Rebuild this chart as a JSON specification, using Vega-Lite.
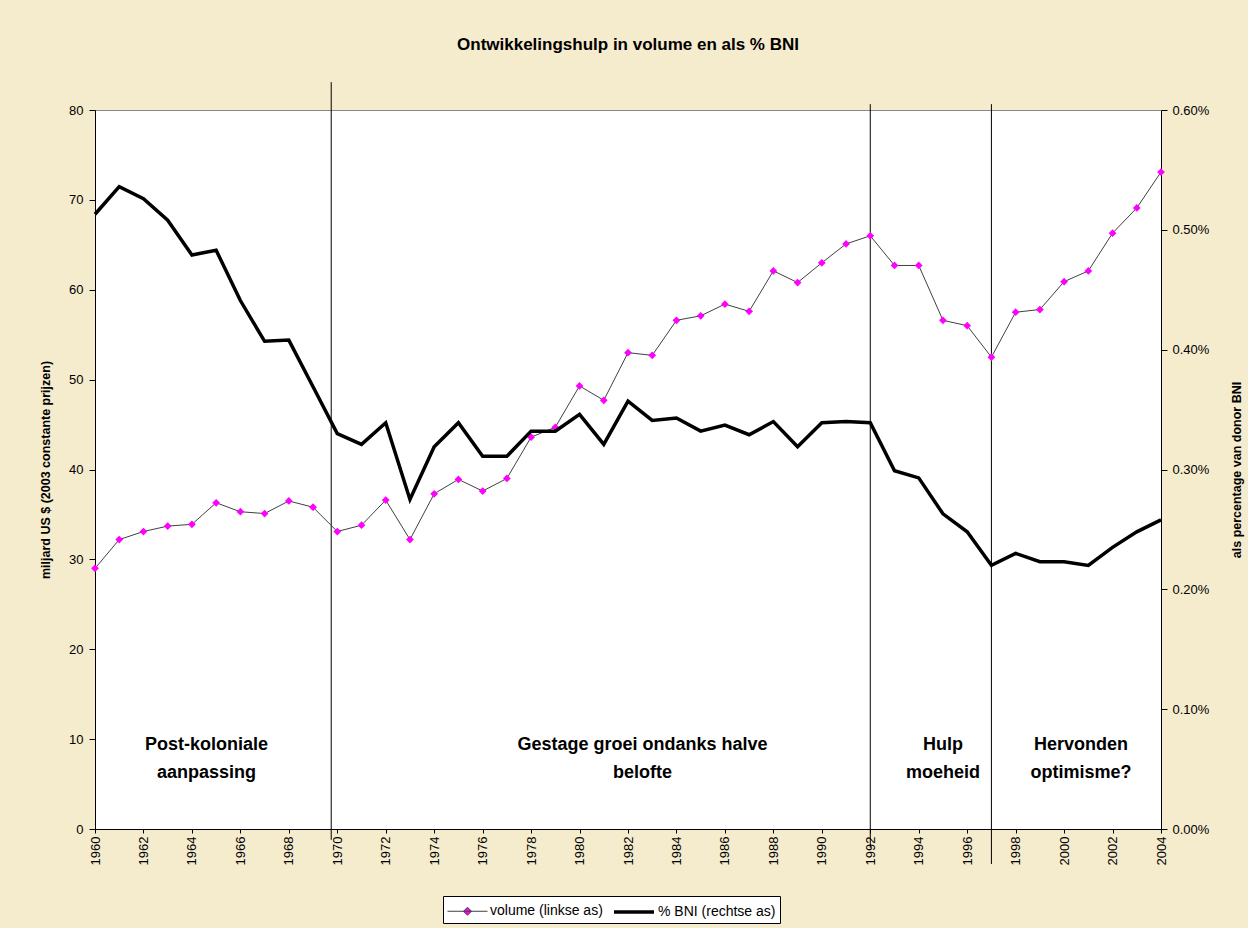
{
  "$schema": "https://vega.github.io/schema/vega-lite/v6.json",
  "autosize": "none",
  "width": 1066,
  "height": 719,
  "padding": {"left": 95, "top": 110, "right": 87, "bottom": 99},
  "background": "#F5EBCD",
  "title": {"text": "Ontwikkelingshulp in volume en als % BNI", "font": "Liberation Sans", "fontSize": 17, "fontWeight": "bold", "anchor": "middle", "offset": 28, "color": "black"},
  "config": {
    "view": {"fill": "white", "stroke": "#888888"},
    "axis": {"domainColor": "black", "tickColor": "black", "labelFont": "Liberation Sans", "labelFontSize": 13, "labelColor": "black", "titleFont": "Liberation Sans", "titleFontSize": 12.5, "titleFontWeight": "bold", "titleColor": "black", "grid": false, "tickSize": 6}
  },
  "datasets": {
    "series": [
      {"year":1960,"series":"volume (linkse as)","value":29.0},{"year":1961,"series":"volume (linkse as)","value":32.2},{"year":1962,"series":"volume (linkse as)","value":33.1},{"year":1963,"series":"volume (linkse as)","value":33.7},{"year":1964,"series":"volume (linkse as)","value":33.9},{"year":1965,"series":"volume (linkse as)","value":36.3},{"year":1966,"series":"volume (linkse as)","value":35.3},{"year":1967,"series":"volume (linkse as)","value":35.1},{"year":1968,"series":"volume (linkse as)","value":36.5},{"year":1969,"series":"volume (linkse as)","value":35.8},
      {"year":1970,"series":"volume (linkse as)","value":33.1},{"year":1971,"series":"volume (linkse as)","value":33.8},{"year":1972,"series":"volume (linkse as)","value":36.6},{"year":1973,"series":"volume (linkse as)","value":32.2},{"year":1974,"series":"volume (linkse as)","value":37.3},{"year":1975,"series":"volume (linkse as)","value":38.9},{"year":1976,"series":"volume (linkse as)","value":37.6},{"year":1977,"series":"volume (linkse as)","value":39.0},{"year":1978,"series":"volume (linkse as)","value":43.6},{"year":1979,"series":"volume (linkse as)","value":44.7},
      {"year":1980,"series":"volume (linkse as)","value":49.3},{"year":1981,"series":"volume (linkse as)","value":47.7},{"year":1982,"series":"volume (linkse as)","value":53.0},{"year":1983,"series":"volume (linkse as)","value":52.7},{"year":1984,"series":"volume (linkse as)","value":56.6},{"year":1985,"series":"volume (linkse as)","value":57.1},{"year":1986,"series":"volume (linkse as)","value":58.4},{"year":1987,"series":"volume (linkse as)","value":57.6},{"year":1988,"series":"volume (linkse as)","value":62.1},{"year":1989,"series":"volume (linkse as)","value":60.8},
      {"year":1990,"series":"volume (linkse as)","value":63.0},{"year":1991,"series":"volume (linkse as)","value":65.1},{"year":1992,"series":"volume (linkse as)","value":66.0},{"year":1993,"series":"volume (linkse as)","value":62.7},{"year":1994,"series":"volume (linkse as)","value":62.7},{"year":1995,"series":"volume (linkse as)","value":56.6},{"year":1996,"series":"volume (linkse as)","value":56.0},{"year":1997,"series":"volume (linkse as)","value":52.5},{"year":1998,"series":"volume (linkse as)","value":57.5},{"year":1999,"series":"volume (linkse as)","value":57.8},
      {"year":2000,"series":"volume (linkse as)","value":60.9},{"year":2001,"series":"volume (linkse as)","value":62.1},{"year":2002,"series":"volume (linkse as)","value":66.3},{"year":2003,"series":"volume (linkse as)","value":69.1},{"year":2004,"series":"volume (linkse as)","value":73.1},
      {"year":1960,"series":"% BNI (rechtse as)","value":0.00513},{"year":1961,"series":"% BNI (rechtse as)","value":0.00536},{"year":1962,"series":"% BNI (rechtse as)","value":0.00526},{"year":1963,"series":"% BNI (rechtse as)","value":0.00508},{"year":1964,"series":"% BNI (rechtse as)","value":0.00479},{"year":1965,"series":"% BNI (rechtse as)","value":0.00483},{"year":1966,"series":"% BNI (rechtse as)","value":0.00441},{"year":1967,"series":"% BNI (rechtse as)","value":0.00407},{"year":1968,"series":"% BNI (rechtse as)","value":0.00408},{"year":1969,"series":"% BNI (rechtse as)","value":0.00369},
      {"year":1970,"series":"% BNI (rechtse as)","value":0.00330},{"year":1971,"series":"% BNI (rechtse as)","value":0.00321},{"year":1972,"series":"% BNI (rechtse as)","value":0.00339},{"year":1973,"series":"% BNI (rechtse as)","value":0.00275},{"year":1974,"series":"% BNI (rechtse as)","value":0.00319},{"year":1975,"series":"% BNI (rechtse as)","value":0.00339},{"year":1976,"series":"% BNI (rechtse as)","value":0.00311},{"year":1977,"series":"% BNI (rechtse as)","value":0.00311},{"year":1978,"series":"% BNI (rechtse as)","value":0.00332},{"year":1979,"series":"% BNI (rechtse as)","value":0.00332},
      {"year":1980,"series":"% BNI (rechtse as)","value":0.00346},{"year":1981,"series":"% BNI (rechtse as)","value":0.00321},{"year":1982,"series":"% BNI (rechtse as)","value":0.00357},{"year":1983,"series":"% BNI (rechtse as)","value":0.00341},{"year":1984,"series":"% BNI (rechtse as)","value":0.00343},{"year":1985,"series":"% BNI (rechtse as)","value":0.00332},{"year":1986,"series":"% BNI (rechtse as)","value":0.00337},{"year":1987,"series":"% BNI (rechtse as)","value":0.00329},{"year":1988,"series":"% BNI (rechtse as)","value":0.00340},{"year":1989,"series":"% BNI (rechtse as)","value":0.00319},
      {"year":1990,"series":"% BNI (rechtse as)","value":0.00339},{"year":1991,"series":"% BNI (rechtse as)","value":0.00340},{"year":1992,"series":"% BNI (rechtse as)","value":0.00339},{"year":1993,"series":"% BNI (rechtse as)","value":0.00299},{"year":1994,"series":"% BNI (rechtse as)","value":0.00293},{"year":1995,"series":"% BNI (rechtse as)","value":0.00263},{"year":1996,"series":"% BNI (rechtse as)","value":0.00248},{"year":1997,"series":"% BNI (rechtse as)","value":0.00220},{"year":1998,"series":"% BNI (rechtse as)","value":0.00230},{"year":1999,"series":"% BNI (rechtse as)","value":0.00223},
      {"year":2000,"series":"% BNI (rechtse as)","value":0.00223},{"year":2001,"series":"% BNI (rechtse as)","value":0.00220},{"year":2002,"series":"% BNI (rechtse as)","value":0.00235},{"year":2003,"series":"% BNI (rechtse as)","value":0.00248},{"year":2004,"series":"% BNI (rechtse as)","value":0.00258}
    ],
    "dividers": [
      {"year":1969.75,"value":83.1,"value2":-1.2},
      {"year":1992,"value":80.65,"value2":-2.1},
      {"year":1997,"value":80.65,"value2":-3.9}
    ],
    "notes": [
      {"year":1964.6,"value":9.35,"label":"Post-koloniale\naanpassing"},
      {"year":1982.6,"value":9.35,"label":"Gestage groei ondanks halve\nbelofte"},
      {"year":1995.0,"value":9.35,"label":"Hulp\nmoeheid"},
      {"year":2000.7,"value":9.35,"label":"Hervonden\noptimisme?"}
    ]
  },
  "encoding": {
    "x": {"field": "year", "type": "quantitative",
      "scale": {"domain": [1960, 2004], "nice": false, "zero": false},
      "axis": {"title": null, "values": [1960,1962,1964,1966,1968,1970,1972,1974,1976,1978,1980,1982,1984,1986,1988,1990,1992,1994,1996,1998,2000,2002,2004], "format": "d", "labelAngle": 270, "tickSize": 4, "labelPadding": 3, "labelFlush": false, "labelOverlap": false}}
  },
  "layer": [
    {
      "layer": [
        {
          "data": {"name": "dividers"},
          "mark": {"type": "rule", "color": "black", "strokeWidth": 1, "clip": false},
          "encoding": {
            "y": {"field": "value", "type": "quantitative", "scale": {"domain": [0, 80], "nice": false}, "axis": {"title": "miljard US $ (2003 constante prijzen)", "values": [0,10,20,30,40,50,60,70,80], "labelPadding": 6, "titlePadding": 16}},
            "y2": {"field": "value2"}
          }
        },
        {
          "data": {"name": "series"},
          "transform": [{"filter": "datum.series === 'volume (linkse as)'"}],
          "mark": {"type": "line"},
          "encoding": {
            "y": {"field": "value", "type": "quantitative", "scale": {"domain": [0, 80], "nice": false}, "axis": {"title": "miljard US $ (2003 constante prijzen)", "values": [0,10,20,30,40,50,60,70,80], "labelPadding": 6, "titlePadding": 16}},
            "color": {"field": "series", "type": "nominal",
              "scale": {"domain": ["volume (linkse as)", "% BNI (rechtse as)"], "range": ["#404040", "#000000"]},
              "legend": {"orient": "none", "legendX": 348, "legendY": 786, "direction": "horizontal", "title": null, "fillColor": "white", "strokeColor": "black", "padding": 4, "symbolSize": 400, "symbolType": "stroke", "labelFont": "Liberation Sans", "labelFontSize": 14, "labelColor": "black", "columnPadding": 4, "labelOffset": 22,
                "encode": {"symbols": {"update": {
                  "shape": {"signal": "datum.value === 'volume (linkse as)' ? 'M-1,0L3,0M1,-0.4L1.4,0L1,0.4L0.6,0Z' : 'M-1,0L3,0'"},
                  "fill": {"signal": "datum.value === 'volume (linkse as)' ? '#FF00FF' : 'transparent'"}
                }}}}},
            "strokeWidth": {"field": "series", "type": "nominal", "scale": {"domain": ["volume (linkse as)", "% BNI (rechtse as)"], "range": [1, 3.5]}}
          }
        },
        {
          "data": {"name": "series"},
          "transform": [{"filter": "datum.series === 'volume (linkse as)'"}],
          "mark": {"type": "point", "shape": "diamond", "filled": true, "color": "#FF00FF", "size": 60, "opacity": 1},
          "encoding": {
            "y": {"field": "value", "type": "quantitative", "scale": {"domain": [0, 80], "nice": false}, "axis": {"title": "miljard US $ (2003 constante prijzen)", "values": [0,10,20,30,40,50,60,70,80], "labelPadding": 6, "titlePadding": 16}}
          }
        },
        {
          "data": {"name": "notes"},
          "mark": {"type": "text", "font": "Liberation Sans", "fontSize": 18, "fontWeight": "bold", "color": "black", "lineBreak": "\n", "lineHeight": 28, "baseline": "middle", "align": "center"},
          "encoding": {
            "y": {"field": "value", "type": "quantitative", "scale": {"domain": [0, 80], "nice": false}, "axis": {"title": "miljard US $ (2003 constante prijzen)", "values": [0,10,20,30,40,50,60,70,80], "labelPadding": 6, "titlePadding": 16}},
            "text": {"field": "label"}
          }
        }
      ]
    },
    {
      "data": {"name": "series"},
      "transform": [{"filter": "datum.series === '% BNI (rechtse as)'"}],
      "mark": {"type": "line"},
      "encoding": {
        "y": {"field": "value", "type": "quantitative", "scale": {"domain": [0, 0.006], "nice": false}, "axis": {"orient": "right", "title": "als percentage van donor BNI", "values": [0,0.001,0.002,0.003,0.004,0.005,0.006], "format": ".2%", "labelPadding": 5, "titlePadding": 35, "titleAngle": 270}},
        "color": {"field": "series", "type": "nominal"},
        "strokeWidth": {"field": "series", "type": "nominal"}
      }
    }
  ],
  "resolve": {"scale": {"y": "independent"}}
}
